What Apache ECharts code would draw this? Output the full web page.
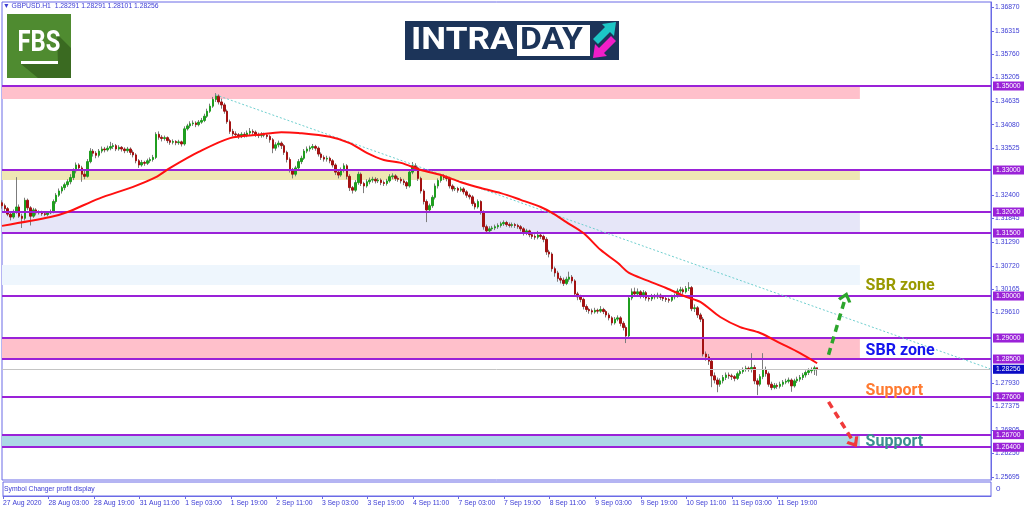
<!DOCTYPE html>
<html><head><meta charset="utf-8">
<script src="https://cdn.jsdelivr.net/npm/echarts@6/dist/echarts.min.js"></script>
<style>html,body{margin:0;padding:0;background:#fff}#c{width:1024px;height:511px}</style>
</head><body><div id="c"></div>
<script>
// ---- DATA ----
const headerText = 'GBPUSD.H1';
const headerOHLC = [1.28291, 1.28291, 1.28101, 1.28256];
const tickLabels = ['27 Aug 2020','28 Aug 03:00','28 Aug 19:00','31 Aug 11:00','1 Sep 03:00','1 Sep 19:00','2 Sep 11:00','3 Sep 03:00','3 Sep 19:00','4 Sep 11:00','7 Sep 03:00','7 Sep 19:00','8 Sep 11:00','9 Sep 03:00','9 Sep 19:00','10 Sep 11:00','11 Sep 03:00','11 Sep 19:00'];
const barsPerTick = 16;
const slotCount = 348;
const yTickValues = [1.36870,1.36315,1.35760,1.35205,1.34635,1.34080,1.33525,1.32400,1.31845,1.31290,1.30720,1.30165,1.29610,1.27930,1.27375,1.26805,1.26250,1.25695];
const levels = [1.35000,1.33000,1.32000,1.31500,1.30000,1.29000,1.28500,1.27600,1.26700,1.26400];
const lastPrice = 1.28256;
const zoneTop =    [1.3500, 1.3300, 1.3200, 1.3074, 1.2900, 1.2670];
const zoneBottom = [1.3469, 1.3276, 1.3150, 1.3026, 1.2850, 1.2640];
const zoneEnd = 301;
const trendLine = [[75, 1.3479], [347, 1.2826]];
const arrowUp = [[290, 1.2860], [296, 1.2998]];
const arrowDown = [[290, 1.2748], [299, 1.2650]];
const noteTexts = ['SBR zone', 'SBR zone', 'Support', 'Support'];
const notePrices = [1.30238, 1.28690, 1.27738, 1.26524];
const noteIndex = 303;
// moving average, read at selected bars [barIndex, price]
const maPoints = [[0,1.3167],[17,1.3188],[23,1.3200],[34,1.3232],[46,1.3260],[54,1.3283],[59,1.3305],[69,1.3343],[80,1.3376],[90,1.3384],[98,1.3390],[104,1.3388],[115,1.3379],[122,1.3364],[128,1.3341],[134,1.3324],[140,1.3317],[147,1.3300],[154,1.3288],[161,1.3271],[168,1.3257],[175,1.3245],[182,1.3229],[189,1.3212],[193,1.3198],[198,1.3176],[204,1.3150],[210,1.3110],[216,1.3079],[220,1.3055],[226,1.3038],[233,1.3019],[240,1.2998],[245,1.2986],[252,1.2950],[259,1.2926],[266,1.2912],[273,1.2888],[280,1.2864],[286,1.2840]];
// hourly candles [open, close, low, high]
const candles = [
[1.3222,1.3215,1.3208,1.3228],[1.3215,1.3208,1.3200,1.3220],[1.3208,1.3195,1.3190,1.3212],[1.3195,1.3188,1.3180,1.3200],
[1.3188,1.3200,1.3184,1.3206],[1.3200,1.3212,1.3196,1.3283],[1.3212,1.3190,1.3186,1.3218],[1.3190,1.3185,1.3162,1.3196],
[1.3185,1.3228,1.3180,1.3234],[1.3228,1.3210,1.3204,1.3232],[1.3210,1.3190,1.3168,1.3214],[1.3190,1.3205,1.3186,1.3210],
[1.3205,1.3198,1.3192,1.3209],[1.3198,1.3200,1.3194,1.3204],[1.3200,1.3196,1.3191,1.3203],[1.3196,1.3194,1.3190,1.3200],
[1.3194,1.3198,1.3190,1.3202],[1.3198,1.3200,1.3195,1.3206],[1.3200,1.3225,1.3197,1.3230],[1.3225,1.3240,1.3220,1.3245],
[1.3240,1.3250,1.3236,1.3256],[1.3250,1.3258,1.3244,1.3262],[1.3258,1.3265,1.3252,1.3270],[1.3265,1.3272,1.3260,1.3278],
[1.3272,1.3282,1.3266,1.3290],[1.3282,1.3298,1.3276,1.3304],[1.3298,1.3312,1.3292,1.3318],[1.3312,1.3305,1.3298,1.3316],
[1.3305,1.3290,1.3272,1.3310],[1.3290,1.3285,1.3278,1.3298],[1.3285,1.3320,1.3282,1.3326],[1.3320,1.3345,1.3316,1.3352],
[1.3345,1.3340,1.3332,1.3350],[1.3340,1.3335,1.3328,1.3345],[1.3335,1.3345,1.3330,1.3350],[1.3345,1.3350,1.3340,1.3356],
[1.3350,1.3348,1.3342,1.3355],[1.3348,1.3352,1.3344,1.3358],[1.3352,1.3356,1.3347,1.3367],[1.3356,1.3358,1.3350,1.3364],
[1.3358,1.3350,1.3345,1.3362],[1.3350,1.3354,1.3346,1.3359],[1.3354,1.3350,1.3344,1.3357],[1.3350,1.3346,1.3340,1.3354],
[1.3346,1.3350,1.3341,1.3355],[1.3350,1.3342,1.3336,1.3354],[1.3342,1.3336,1.3330,1.3347],[1.3336,1.3322,1.3316,1.3340],
[1.3322,1.3312,1.3305,1.3326],[1.3312,1.3318,1.3308,1.3324],[1.3318,1.3316,1.3310,1.3322],[1.3316,1.3322,1.3312,1.3327],
[1.3322,1.3325,1.3317,1.3330],[1.3325,1.3330,1.3320,1.3336],[1.3330,1.3385,1.3326,1.3390],[1.3385,1.3378,1.3372,1.3392],
[1.3378,1.3375,1.3368,1.3383],[1.3375,1.3377,1.3370,1.3382],[1.3377,1.3370,1.3364,1.3380],[1.3370,1.3366,1.3360,1.3374],
[1.3366,1.3368,1.3361,1.3373],[1.3368,1.3365,1.3359,1.3371],[1.3365,1.3367,1.3360,1.3372],[1.3367,1.3362,1.3356,1.3370],
[1.3362,1.3398,1.3358,1.3404],[1.3398,1.3405,1.3394,1.3410],[1.3405,1.3410,1.3400,1.3416],[1.3410,1.3412,1.3405,1.3418],
[1.3412,1.3408,1.3402,1.3416],[1.3408,1.3414,1.3404,1.3419],[1.3414,1.3418,1.3410,1.3424],[1.3418,1.3428,1.3414,1.3434],
[1.3428,1.3440,1.3424,1.3446],[1.3440,1.3452,1.3436,1.3458],[1.3452,1.3468,1.3448,1.3474],[1.3468,1.3476,1.3462,1.3483],
[1.3476,1.3462,1.3456,1.3480],[1.3462,1.3455,1.3446,1.3470],[1.3455,1.3440,1.3434,1.3460],[1.3440,1.3415,1.3410,1.3444],
[1.3415,1.3392,1.3386,1.3420],[1.3392,1.3386,1.3380,1.3398],[1.3386,1.3384,1.3378,1.3392],[1.3384,1.3380,1.3374,1.3388],
[1.3380,1.3385,1.3376,1.3390],[1.3385,1.3382,1.3377,1.3390],[1.3382,1.3388,1.3378,1.3394],[1.3388,1.3392,1.3383,1.3400],
[1.3392,1.3390,1.3384,1.3397],[1.3390,1.3384,1.3379,1.3394],[1.3384,1.3382,1.3376,1.3389],[1.3382,1.3385,1.3377,1.3390],
[1.3385,1.3383,1.3378,1.3389],[1.3383,1.3380,1.3374,1.3388],[1.3380,1.3372,1.3365,1.3384],[1.3372,1.3352,1.3340,1.3376],
[1.3352,1.3360,1.3346,1.3366],[1.3360,1.3364,1.3354,1.3370],[1.3364,1.3358,1.3350,1.3368],[1.3358,1.3342,1.3336,1.3362],
[1.3342,1.3325,1.3318,1.3346],[1.3325,1.3300,1.3294,1.3330],[1.3300,1.3290,1.3280,1.3305],[1.3290,1.3305,1.3285,1.3310],
[1.3305,1.3320,1.3300,1.3326],[1.3320,1.3328,1.3314,1.3334],[1.3328,1.3345,1.3324,1.3350],[1.3345,1.3350,1.3340,1.3356],
[1.3350,1.3353,1.3344,1.3358],[1.3353,1.3356,1.3348,1.3362],[1.3356,1.3352,1.3346,1.3360],[1.3352,1.3338,1.3332,1.3356],
[1.3338,1.3330,1.3324,1.3342],[1.3330,1.3326,1.3320,1.3335],[1.3326,1.3328,1.3320,1.3334],[1.3328,1.3322,1.3316,1.3332],
[1.3322,1.3312,1.3306,1.3326],[1.3312,1.3295,1.3288,1.3316],[1.3295,1.3288,1.3280,1.3300],[1.3288,1.3300,1.3284,1.3306],
[1.3300,1.3310,1.3294,1.3316],[1.3310,1.3285,1.3278,1.3314],[1.3285,1.3258,1.3250,1.3290],[1.3258,1.3252,1.3244,1.3262],
[1.3252,1.3270,1.3248,1.3276],[1.3270,1.3290,1.3265,1.3296],[1.3290,1.3268,1.3262,1.3294],[1.3268,1.3262,1.3245,1.3272],
[1.3262,1.3272,1.3258,1.3278],[1.3272,1.3276,1.3266,1.3282],[1.3276,1.3278,1.3270,1.3284],[1.3278,1.3274,1.3268,1.3283],
[1.3274,1.3276,1.3269,1.3281],[1.3276,1.3270,1.3264,1.3280],[1.3270,1.3268,1.3262,1.3275],[1.3268,1.3274,1.3263,1.3279],
[1.3274,1.3284,1.3270,1.3290],[1.3284,1.3286,1.3278,1.3292],[1.3286,1.3280,1.3274,1.3290],[1.3280,1.3278,1.3272,1.3285],
[1.3278,1.3274,1.3268,1.3283],[1.3274,1.3270,1.3264,1.3279],[1.3270,1.3262,1.3255,1.3274],[1.3262,1.3295,1.3258,1.3302],
[1.3295,1.3310,1.3290,1.3319],[1.3310,1.3305,1.3298,1.3316],[1.3305,1.3280,1.3274,1.3308],[1.3280,1.3250,1.3244,1.3284],
[1.3250,1.3225,1.3218,1.3254],[1.3225,1.3205,1.3176,1.3230],[1.3205,1.3215,1.3198,1.3220],[1.3215,1.3235,1.3210,1.3240],
[1.3235,1.3262,1.3230,1.3268],[1.3262,1.3275,1.3256,1.3280],[1.3275,1.3285,1.3270,1.3291],[1.3285,1.3282,1.3276,1.3290],
[1.3282,1.3280,1.3273,1.3287],[1.3280,1.3262,1.3256,1.3284],[1.3262,1.3255,1.3249,1.3266],[1.3255,1.3256,1.3250,1.3261],
[1.3256,1.3252,1.3246,1.3260],[1.3252,1.3255,1.3248,1.3260],[1.3255,1.3248,1.3242,1.3259],[1.3248,1.3240,1.3234,1.3252],
[1.3240,1.3236,1.3230,1.3244],[1.3236,1.3220,1.3214,1.3240],[1.3220,1.3212,1.3206,1.3225],[1.3212,1.3225,1.3208,1.3230],
[1.3225,1.3200,1.3194,1.3228],[1.3200,1.3165,1.3158,1.3204],[1.3165,1.3155,1.3148,1.3170],[1.3155,1.3160,1.3150,1.3166],
[1.3160,1.3162,1.3155,1.3167],[1.3162,1.3165,1.3157,1.3170],[1.3165,1.3168,1.3160,1.3173],[1.3168,1.3172,1.3163,1.3177],
[1.3172,1.3175,1.3167,1.3180],[1.3175,1.3170,1.3165,1.3179],[1.3170,1.3168,1.3163,1.3175],[1.3168,1.3170,1.3163,1.3175],
[1.3170,1.3168,1.3162,1.3174],[1.3168,1.3165,1.3160,1.3172],[1.3165,1.3160,1.3154,1.3169],[1.3160,1.3150,1.3144,1.3164],
[1.3150,1.3155,1.3145,1.3160],[1.3155,1.3146,1.3140,1.3158],[1.3146,1.3142,1.3136,1.3150],[1.3142,1.3140,1.3134,1.3147],
[1.3140,1.3145,1.3135,1.3155],[1.3145,1.3142,1.3136,1.3150],[1.3142,1.3135,1.3128,1.3146],[1.3135,1.3105,1.3098,1.3140],
[1.3105,1.3100,1.3092,1.3110],[1.3100,1.3065,1.3058,1.3104],[1.3065,1.3055,1.3046,1.3070],[1.3055,1.3042,1.3034,1.3060],
[1.3042,1.3038,1.3030,1.3048],[1.3038,1.3030,1.3024,1.3044],[1.3030,1.3040,1.3026,1.3046],[1.3040,1.3045,1.3034,1.3058],
[1.3045,1.3036,1.3030,1.3050],[1.3036,1.3005,1.2998,1.3040],[1.3005,1.2998,1.2990,1.3010],[1.2998,1.2992,1.2985,1.3003],
[1.2992,1.2975,1.2968,1.2996],[1.2975,1.2968,1.2962,1.2980],[1.2968,1.2965,1.2958,1.2972],[1.2965,1.2962,1.2956,1.2970],
[1.2962,1.2966,1.2958,1.2972],[1.2966,1.2964,1.2958,1.2970],[1.2964,1.2968,1.2960,1.2976],[1.2968,1.2963,1.2957,1.2972],
[1.2963,1.2955,1.2949,1.2967],[1.2955,1.2948,1.2942,1.2960],[1.2948,1.2936,1.2930,1.2952],[1.2936,1.2945,1.2932,1.2950],
[1.2945,1.2948,1.2940,1.2954],[1.2948,1.2935,1.2928,1.2952],[1.2935,1.2925,1.2918,1.2940],[1.2925,1.2905,1.2888,1.2930],
[1.2905,1.2995,1.2900,1.3000],[1.2995,1.3010,1.2990,1.3018],[1.3010,1.3005,1.2998,1.3020],[1.3005,1.3010,1.2999,1.3018],
[1.3010,1.3000,1.2994,1.3014],[1.3000,1.3008,1.2995,1.3014],[1.3008,1.2995,1.2989,1.3012],[1.2995,1.2993,1.2987,1.3000],
[1.2993,1.3000,1.2988,1.3005],[1.3000,1.2998,1.2992,1.3005],[1.2998,1.3002,1.2993,1.3008],[1.3002,1.2997,1.2991,1.3006],
[1.2997,1.2994,1.2988,1.3001],[1.2994,1.2992,1.2986,1.2999],[1.2992,1.2990,1.2984,1.2996],[1.2990,1.2998,1.2986,1.3003],
[1.2998,1.3000,1.2992,1.3006],[1.3000,1.3012,1.2996,1.3018],[1.3012,1.3015,1.3006,1.3022],[1.3015,1.3010,1.3004,1.3020],
[1.3010,1.3018,1.3006,1.3024],[1.3018,1.3020,1.3012,1.3033],[1.3020,1.2970,1.2964,1.3024],[1.2970,1.2972,1.2962,1.2980],
[1.2972,1.2955,1.2948,1.2976],[1.2955,1.2945,1.2938,1.2960],[1.2945,1.2862,1.2856,1.2950],[1.2862,1.2855,1.2846,1.2868],
[1.2855,1.2845,1.2836,1.2862],[1.2845,1.2810,1.2783,1.2850],[1.2810,1.2800,1.2792,1.2818],[1.2800,1.2790,1.2771,1.2806],
[1.2790,1.2798,1.2784,1.2804],[1.2798,1.2806,1.2792,1.2812],[1.2806,1.2812,1.2800,1.2818],[1.2812,1.2810,1.2803,1.2818],
[1.2810,1.2808,1.2800,1.2815],[1.2808,1.2804,1.2797,1.2812],[1.2804,1.2815,1.2800,1.2820],[1.2815,1.2820,1.2810,1.2826],
[1.2820,1.2825,1.2815,1.2830],[1.2825,1.2828,1.2820,1.2834],[1.2828,1.2826,1.2820,1.2832],[1.2826,1.2830,1.2818,1.2864],
[1.2830,1.2798,1.2790,1.2836],[1.2798,1.2790,1.2764,1.2804],[1.2790,1.2808,1.2785,1.2814],[1.2808,1.2825,1.2802,1.2864],
[1.2825,1.2815,1.2808,1.2832],[1.2815,1.2790,1.2784,1.2820],[1.2790,1.2782,1.2776,1.2796],[1.2782,1.2787,1.2778,1.2793],
[1.2787,1.2785,1.2779,1.2792],[1.2785,1.2790,1.2780,1.2796],[1.2790,1.2795,1.2784,1.2800],[1.2795,1.2797,1.2790,1.2803],
[1.2797,1.2800,1.2792,1.2806],[1.2800,1.2786,1.2772,1.2804],[1.2786,1.2798,1.2782,1.2803],[1.2798,1.2802,1.2793,1.2808],
[1.2802,1.2806,1.2796,1.2812],[1.2806,1.2812,1.2800,1.2817],[1.2812,1.2818,1.2806,1.2823],[1.2818,1.2822,1.2812,1.2828],
[1.2822,1.2824,1.2816,1.2830],[1.2824,1.2829,1.2812,1.2834],[1.28291,1.28256,1.28101,1.28291]
];

// ---- CHART ----
const AX = '#6a6ae6', TX = '#3b3bd4', PURPLE = '#9a22d8';
const FONT = '"Liberation Sans", Arial, sans-serif';
const categories = Array.from({length: slotCount}, (_, i) => String(i));
const bodies = candles.map(c => [c[0], c[1], Math.min(c[0], c[1]), Math.max(c[0], c[1])]);
const tickFn = (idx) => idx % barsPerTick === 0 && idx / barsPerTick < tickLabels.length;
const zoneColors = ['#ffc0cb', '#efe7b4', '#e6e6f8', '#eef6fd', '#ffc0cb', '#add8e6'];
const noteColors = ['#999900', '#1414ee', '#ff7a30', '#3a8f8f'];

const chart = echarts.init(document.getElementById('c'), null, {renderer: 'canvas'});
chart.setOption({
  animation: false,
  backgroundColor: '#fff',
  title: {
    text: '\u25BC ' + headerText + '  ' + headerOHLC.map(v => v.toFixed(5)).join(' '),
    left: 3, top: 3, padding: 0,
    textStyle: {fontSize: 6.8, fontWeight: 'normal', color: TX, fontFamily: FONT}
  },
  grid: [
    {left: 2, right: 33, top: 2, height: 478, show: true, borderColor: AX, borderWidth: 1, backgroundColor: '#fff'},
    {left: 2, right: 33, top: 482, height: 14, show: true, borderColor: AX, borderWidth: 1}
  ],
  xAxis: [
    {type: 'category', gridIndex: 0, data: categories, boundaryGap: false, show: false},
    {type: 'category', gridIndex: 1, data: categories, boundaryGap: false,
     axisLine: {lineStyle: {color: AX}},
     axisTick: {interval: tickFn, length: 3, lineStyle: {color: AX}},
     axisLabel: {interval: tickFn, align: 'left', margin: 4, fontSize: 6.8, color: TX, fontFamily: FONT,
       formatter: (v, i) => tickLabels[Math.round(i / barsPerTick)] || ''},
     splitLine: {show: false}}
  ],
  yAxis: [
    {type: 'value', gridIndex: 0, position: 'right', min: 1.2562, max: 1.3700, scale: true,
     axisLine: {show: true, lineStyle: {color: AX}},
     axisTick: {show: true, length: 3, lineStyle: {color: AX}, customValues: yTickValues},
     axisLabel: {margin: 4, fontSize: 6.8, color: TX, fontFamily: FONT, customValues: yTickValues,
       formatter: v => v.toFixed(5)},
     splitLine: {show: false}},
    {type: 'value', gridIndex: 1, show: false, min: 0, max: 1}
  ],
  series: [
    {
      name: 'wicks', type: 'candlestick', xAxisIndex: 0, yAxisIndex: 0, data: candles,
      barWidth: 1, z: 3, silent: true,
      itemStyle: {color: '#7c7c7c', color0: '#7c7c7c', borderColor: '#7c7c7c', borderColor0: '#7c7c7c', borderWidth: 1},
      markArea: {
        silent: true,
        data: zoneTop.map((t, k) => [
          {xAxis: 0, yAxis: t, itemStyle: {color: zoneColors[k]}},
          {xAxis: zoneEnd, yAxis: zoneBottom[k]}
        ])
      },
      markLine: {
        silent: true, symbol: ['none', 'none'], precision: 5,
        data: levels.map(v => ({
          yAxis: v,
          lineStyle: {color: PURPLE, width: 2, type: 'solid'},
          label: {show: true, position: 'end', distance: 2, formatter: p => p.value.toFixed(5),
            color: '#fff', backgroundColor: PURPLE, padding: [1, 4, 1, 3], fontSize: 6.8, fontFamily: FONT}
        })).concat([{
          yAxis: lastPrice,
          lineStyle: {color: '#c4c4c4', width: 1, type: 'solid'},
          label: {show: true, position: 'end', distance: 2, formatter: p => p.value.toFixed(5),
            color: '#fff', backgroundColor: '#0b0bc4', padding: [1, 4, 1, 3], fontSize: 6.8, fontFamily: FONT}
        }])
      }
    },
    {
      name: 'bodies', type: 'candlestick', xAxisIndex: 0, yAxisIndex: 0, data: bodies,
      barWidth: 2, z: 4, silent: true,
      itemStyle: {color: '#1f9e1f', color0: '#a31212', borderColor: '#1f9e1f', borderColor0: '#a31212', borderWidth: 1}
    },
    {
      name: 'MA', type: 'line', xAxisIndex: 0, yAxisIndex: 0, data: maPoints, smooth: 0.3,
      symbol: 'none', z: 5, silent: true,
      lineStyle: {color: '#ff1010', width: 2}
    },
    {
      name: 'annotations', type: 'line', xAxisIndex: 0, yAxisIndex: 0, data: [[0, lastPrice]],
      symbol: 'none', lineStyle: {opacity: 0}, z: 6, silent: true,
      markLine: {
        silent: true, precision: 5,
        data: [
          [{coord: trendLine[0], symbol: 'none', lineStyle: {color: '#6fcfcf', width: 1, type: [2, 2]}},
           {coord: trendLine[1], symbol: 'none'}],
          [{coord: arrowUp[0], symbol: 'none', lineStyle: {color: '#2ca52c', width: 3.5, type: [7, 5]}},
           {coord: arrowUp[1], symbol: 'path://M0,12 L10,0 L20,12 L16,14 L10,7 L4,14 Z', symbolSize: [14, 10]}],
          [{coord: arrowDown[0], symbol: 'none', lineStyle: {color: '#f03a3a', width: 3.5, type: [7, 5]}},
           {coord: arrowDown[1], symbol: 'path://M0,12 L10,0 L20,12 L16,14 L10,7 L4,14 Z', symbolSize: [14, 10]}]
        ],
        label: {show: false}
      },
      markPoint: {
        silent: true, symbol: 'circle', symbolSize: 0,
        data: noteTexts.map((t, k) => ({
          coord: [noteIndex, notePrices[k]],
          label: {show: true, position: 'right', distance: 0, formatter: t, color: noteColors[k],
            fontSize: 16, fontWeight: 'bold', fontFamily: 'Roboto, "Liberation Sans", sans-serif'}
        }))
      }
    }
  ],
  graphic: [
    // FBS logo
    {type: 'rect', shape: {x: 7, y: 14, width: 64, height: 64}, style: {fill: '#4f8b30'}, z: 10},
    {type: 'polygon', shape: {points: [[57, 34], [71, 48], [71, 78], [38, 78], [21, 64], [58, 64]]}, style: {fill: '#3a6a21'}, z: 10},
    {type: 'text', x: 39, y: 44, scaleX: 0.82, style: {text: 'FBS', font: 'bold 29px Roboto, sans-serif', fill: '#fff', align: 'center', verticalAlign: 'middle'}, z: 11},
    {type: 'rect', shape: {x: 21, y: 61, width: 37, height: 3}, style: {fill: '#fff'}, z: 11},
    // INTRADAY logo
    {type: 'rect', shape: {x: 405, y: 21, width: 214, height: 39}, style: {fill: '#1c3459'}, z: 10},
    {type: 'text', x: 411, y: 41, scaleX: 1.1, style: {text: 'INTRA', font: 'bold 32px Roboto, sans-serif', fill: '#fff', align: 'left', verticalAlign: 'middle'}, z: 11},
    {type: 'rect', shape: {x: 517, y: 25, width: 73, height: 31}, style: {fill: '#fff'}, z: 11},
    {type: 'text', x: 520, y: 41, scaleX: 1.05, style: {text: 'DAY', font: 'bold 32px Roboto, sans-serif', fill: '#1c3459', align: 'left', verticalAlign: 'middle'}, z: 12},
    {type: 'polygon', shape: {points: [[616, 22], [614, 36], [610, 32], [598, 44], [593, 39], [605, 27], [602, 24]]}, style: {fill: '#1cc6c6'}, z: 12},
    {type: 'polygon', shape: {points: [[593, 58], [595, 44], [599, 48], [611, 36], [616, 41], [604, 53], [607, 56]]}, style: {fill: '#f01ec8'}, z: 12},
    // sub-window caption
    {type: 'text', x: 4, y: 489, style: {text: 'Symbol Changer profit display', font: '6.8px ' + FONT, fill: TX, verticalAlign: 'middle'}, z: 12},
    {type: 'text', x: 996, y: 489, style: {text: '0', font: '8px ' + FONT, fill: TX, verticalAlign: 'middle'}, z: 12}
  ]
});
</script>
</body></html>
